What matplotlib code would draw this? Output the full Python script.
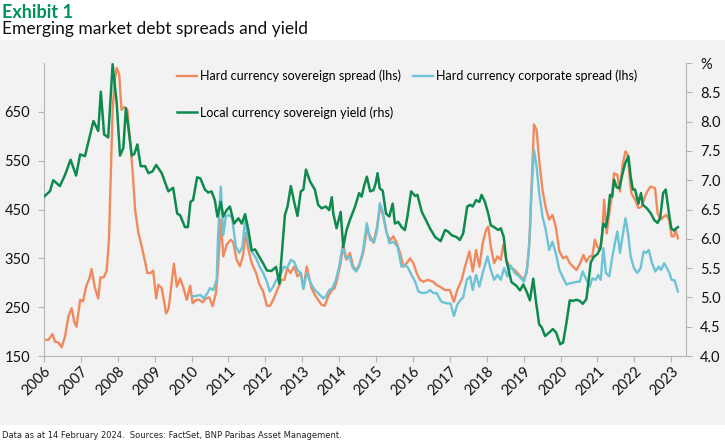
import numpy as np
import matplotlib
matplotlib.use('Agg')
import matplotlib.pyplot as plt
from matplotlib.patches import Rectangle

plt.rcParams['font.family'] = ['Lato', 'DejaVu Sans']

# hard currency sovereign spread (lhs), x in axis years
sov_t = [2006.00, 2006.12, 2006.23, 2006.30, 2006.38, 2006.48, 2006.57, 2006.66, 2006.75, 2006.82,
         2006.88, 2006.98, 2007.06, 2007.14, 2007.23, 2007.29, 2007.38, 2007.47, 2007.53, 2007.62,
         2007.70, 2007.76, 2007.81, 2007.86, 2007.92, 2007.97, 2008.04, 2008.10, 2008.18, 2008.26,
         2008.33, 2008.40, 2008.47, 2008.56, 2008.65, 2008.74, 2008.80, 2008.89, 2008.96, 2009.04,
         2009.10, 2009.19, 2009.31, 2009.38, 2009.52, 2009.60, 2009.69, 2009.78, 2009.87, 2009.96,
         2010.03, 2010.12, 2010.21, 2010.30, 2010.39, 2010.48, 2010.57, 2010.66, 2010.72, 2010.79,
         2010.86, 2010.95, 2011.06, 2011.13, 2011.22, 2011.31, 2011.39, 2011.47, 2011.53, 2011.63,
         2011.75, 2011.83, 2011.94, 2012.04, 2012.13, 2012.23, 2012.32, 2012.44, 2012.52, 2012.59,
         2012.68, 2012.78, 2012.87, 2012.96, 2013.03, 2013.12, 2013.25, 2013.34, 2013.43, 2013.52,
         2013.61, 2013.70, 2013.80, 2013.88, 2013.94, 2014.04, 2014.11, 2014.20, 2014.29, 2014.38,
         2014.47, 2014.56, 2014.65, 2014.75, 2014.84, 2014.93, 2015.02, 2015.11, 2015.20, 2015.29,
         2015.38, 2015.47, 2015.56, 2015.65, 2015.74, 2015.83, 2015.92, 2016.01, 2016.10, 2016.19,
         2016.28, 2016.41, 2016.55, 2016.64, 2016.73, 2016.87, 2017.00, 2017.11, 2017.20, 2017.32,
         2017.41, 2017.53, 2017.62, 2017.71, 2017.80, 2017.89, 2017.98, 2018.04, 2018.11, 2018.20,
         2018.29, 2018.38, 2018.45, 2018.53, 2018.62, 2018.76, 2018.88, 2018.99, 2019.08, 2019.15,
         2019.21, 2019.28, 2019.35, 2019.42, 2019.51, 2019.60, 2019.69, 2019.78, 2019.87, 2019.97,
         2020.07, 2020.16, 2020.25, 2020.34, 2020.43, 2020.53, 2020.62, 2020.70, 2020.79, 2020.86,
         2020.93, 2021.00, 2021.07, 2021.12, 2021.18, 2021.25, 2021.32, 2021.39, 2021.45, 2021.54,
         2021.61, 2021.68, 2021.76, 2021.82, 2021.88, 2021.92, 2022.02, 2022.11, 2022.20, 2022.29,
         2022.35, 2022.44, 2022.56, 2022.63, 2022.71, 2022.79, 2022.87, 2022.94, 2023.01, 2023.07,
         2023.12, 2023.18]
sov = [183, 183, 195, 179, 178, 168, 190, 231, 248, 220,
       210, 265, 262, 292, 309, 328, 289, 268, 311, 311,
       325, 388, 518, 654, 716, 740, 726, 654, 660, 654,
       593, 531, 449, 401, 374, 343, 320, 320, 325, 268,
       296, 289, 237, 248, 339, 292, 309, 289, 265, 294,
       258, 265, 265, 260, 268, 270, 252, 279, 333, 429,
       354, 378, 388, 383, 347, 334, 354, 402, 371, 340,
       320, 298, 282, 253, 253, 268, 285, 306, 306, 330,
       320, 333, 313, 320, 288, 333, 289, 275, 265, 255,
       253, 272, 285, 289, 306, 340, 378, 347, 361, 333,
       326, 340, 361, 408, 395, 382, 412, 456, 435, 401,
       387, 395, 381, 361, 333, 340, 350, 340, 320, 306,
       302, 306, 302, 295, 292, 285, 285, 261, 285, 306,
       333, 364, 323, 367, 333, 381, 408, 415, 374, 340,
       354, 347, 378, 347, 333, 326, 316, 306, 320, 374,
       490, 624, 613, 552, 490, 453, 429, 439, 415, 364,
       350, 354, 340, 333, 326, 340, 357, 343, 354, 354,
       388, 374, 367, 388, 470, 401, 443, 477, 524, 521,
       487, 542, 569, 562, 511, 483, 470, 453, 456, 477,
       487, 497, 494, 443, 429, 435, 439, 429, 395, 395,
       408, 391]

# hard currency corporate spread (lhs)
corp_t = [2010.02, 2010.13, 2010.24, 2010.33, 2010.43, 2010.50, 2010.59, 2010.68, 2010.72, 2010.79,
          2010.86, 2010.93, 2011.01, 2011.10, 2011.20, 2011.29, 2011.38, 2011.46, 2011.53, 2011.63,
          2011.75, 2011.84, 2011.94, 2012.04, 2012.12, 2012.21, 2012.30, 2012.39, 2012.50, 2012.59,
          2012.69, 2012.78, 2012.87, 2012.96, 2013.03, 2013.12, 2013.25, 2013.34, 2013.48, 2013.57,
          2013.64, 2013.73, 2013.82, 2013.91, 2014.00, 2014.09, 2014.18, 2014.28, 2014.37, 2014.46,
          2014.54, 2014.65, 2014.75, 2014.84, 2014.95, 2015.03, 2015.10, 2015.17, 2015.27, 2015.36,
          2015.47, 2015.58, 2015.69, 2015.78, 2015.87, 2015.96, 2016.06, 2016.15, 2016.24, 2016.37,
          2016.46, 2016.55, 2016.64, 2016.77, 2016.91, 2017.02, 2017.11, 2017.20, 2017.29, 2017.36,
          2017.46, 2017.55, 2017.62, 2017.71, 2017.80, 2017.89, 2018.02, 2018.11, 2018.20, 2018.29,
          2018.38, 2018.47, 2018.56, 2018.65, 2018.76, 2018.88, 2019.01, 2019.10, 2019.17, 2019.21,
          2019.28, 2019.35, 2019.42, 2019.51, 2019.60, 2019.69, 2019.78, 2019.87, 2019.97, 2020.07,
          2020.16, 2020.25, 2020.34, 2020.43, 2020.52, 2020.60, 2020.70, 2020.79, 2020.86, 2020.95,
          2021.02, 2021.09, 2021.16, 2021.23, 2021.32, 2021.39, 2021.48, 2021.54, 2021.61, 2021.68,
          2021.76, 2021.83, 2021.90, 2021.99, 2022.08, 2022.17, 2022.25, 2022.32, 2022.39, 2022.48,
          2022.57, 2022.66, 2022.72, 2022.81, 2022.88, 2022.95, 2023.01, 2023.09, 2023.14, 2023.18]
corp = [272, 273, 275, 268, 279, 289, 285, 306, 401, 497,
        398, 436, 439, 432, 374, 361, 374, 436, 384, 364,
        350, 333, 320, 302, 282, 292, 306, 313, 333, 330,
        347, 343, 326, 320, 287, 320, 296, 285, 275, 268,
        272, 285, 289, 306, 333, 374, 350, 354, 330, 323,
        333, 367, 422, 388, 384, 408, 463, 449, 408, 381,
        384, 374, 333, 337, 330, 316, 302, 282, 279, 280,
        285, 279, 279, 261, 258, 257, 232, 255, 265, 270,
        306, 313, 285, 316, 292, 320, 354, 326, 306, 316,
        306, 330, 313, 335, 320, 313, 302, 333, 401, 484,
        572, 538, 484, 436, 408, 367, 384, 361, 326, 310,
        296, 299, 300, 302, 302, 323, 306, 292, 309, 306,
        316, 306, 371, 320, 313, 347, 384, 405, 361, 395,
        432, 401, 354, 330, 320, 330, 364, 361, 367, 340,
        323, 333, 326, 340, 330, 320, 306, 305, 292, 282]

# local currency sovereign yield (rhs), %
loc_t = [2006.00, 2006.16, 2006.25, 2006.43, 2006.57, 2006.72, 2006.87, 2006.98, 2007.11, 2007.34,
         2007.47, 2007.54, 2007.63, 2007.74, 2007.86, 2007.97, 2008.06, 2008.15, 2008.22, 2008.38,
         2008.45, 2008.53, 2008.62, 2008.74, 2008.83, 2008.94, 2009.04, 2009.19, 2009.37, 2009.50,
         2009.61, 2009.69, 2009.82, 2009.90, 2009.97, 2010.04, 2010.15, 2010.24, 2010.36, 2010.45,
         2010.54, 2010.63, 2010.70, 2010.79, 2010.86, 2010.95, 2011.04, 2011.15, 2011.27, 2011.36,
         2011.45, 2011.54, 2011.63, 2011.72, 2011.81, 2011.94, 2012.04, 2012.16, 2012.29, 2012.38,
         2012.53, 2012.60, 2012.69, 2012.78, 2012.87, 2012.96, 2013.03, 2013.10, 2013.21, 2013.34,
         2013.43, 2013.52, 2013.64, 2013.73, 2013.80, 2013.84, 2013.93, 2014.04, 2014.11, 2014.20,
         2014.29, 2014.43, 2014.54, 2014.61, 2014.67, 2014.75, 2014.84, 2014.93, 2014.99, 2015.04,
         2015.10, 2015.18, 2015.27, 2015.36, 2015.45, 2015.51, 2015.60, 2015.69, 2015.78, 2015.85,
         2015.95, 2016.06, 2016.12, 2016.24, 2016.35, 2016.46, 2016.60, 2016.75, 2016.87, 2016.96,
         2017.05, 2017.18, 2017.27, 2017.36, 2017.47, 2017.55, 2017.62, 2017.71, 2017.80, 2017.86,
         2017.95, 2018.04, 2018.11, 2018.20, 2018.31, 2018.38, 2018.46, 2018.53, 2018.67, 2018.80,
         2018.90, 2018.99, 2019.08, 2019.17, 2019.26, 2019.33, 2019.42, 2019.49, 2019.58, 2019.69,
         2019.79, 2019.88, 2019.99, 2020.07, 2020.16, 2020.25, 2020.34, 2020.43, 2020.52, 2020.60,
         2020.70, 2020.82, 2020.90, 2021.00, 2021.08, 2021.16, 2021.23, 2021.29, 2021.34, 2021.40,
         2021.45, 2021.52, 2021.59, 2021.66, 2021.75, 2021.84, 2021.90, 2021.96, 2022.02, 2022.11,
         2022.18, 2022.23, 2022.34, 2022.45, 2022.54, 2022.63, 2022.70, 2022.78, 2022.85, 2022.94,
         2023.00, 2023.07, 2023.14, 2023.18]
loc = [6.72, 6.81, 7.00, 6.90, 7.09, 7.35, 7.08, 7.44, 7.41, 8.01,
       7.84, 8.51, 7.78, 7.73, 8.98, 8.32, 7.42, 7.55, 8.23, 7.42,
       7.45, 7.61, 7.24, 7.24, 7.12, 7.15, 7.26, 7.12, 6.81, 6.87,
       6.43, 6.40, 6.20, 6.20, 6.63, 6.66, 7.05, 7.03, 6.84, 6.79,
       6.81, 6.66, 6.38, 6.63, 6.38, 6.49, 6.55, 6.26, 6.35, 6.26,
       6.42, 6.15, 5.80, 5.82, 5.72, 5.58, 5.46, 5.45, 5.52, 5.23,
       6.41, 6.55, 6.90, 6.63, 6.39, 6.81, 6.84, 7.18, 6.98, 6.84,
       6.58, 6.52, 6.55, 6.49, 6.71, 6.43, 6.18, 6.46, 5.86, 6.15,
       6.32, 6.55, 6.78, 6.72, 6.89, 7.06, 6.81, 6.83, 6.95, 7.12,
       6.86, 6.82, 6.43, 6.38, 6.60, 6.26, 6.29, 6.20, 6.15, 6.38,
       6.81, 6.73, 6.75, 6.46, 6.32, 6.18, 6.03, 5.96, 6.15, 6.12,
       6.06, 6.03, 5.98, 6.09, 6.55, 6.58, 6.55, 6.66, 6.63, 6.75,
       6.63, 6.43, 6.23, 6.20, 6.15, 6.18, 6.03, 5.63, 5.26, 5.20,
       5.12, 5.22, 5.10, 4.95, 5.32, 4.95, 4.54, 4.49, 4.34, 4.40,
       4.46, 4.40, 4.20, 4.23, 4.57, 4.95, 4.94, 4.96, 4.94, 4.89,
       4.97, 5.60, 5.69, 5.74, 5.84, 6.26, 6.20, 6.43, 6.75, 6.72,
       7.01, 6.88, 6.86, 7.06, 7.29, 7.41, 7.06, 6.84, 6.84, 6.60,
       6.78, 6.58, 6.52, 6.43, 6.32, 6.27, 6.36, 6.78, 6.84, 6.43,
       6.18, 6.14, 6.18, 6.20]

years = list(range(2006, 2024))
left_ticks = [150, 250, 350, 450, 550, 650]
right_ticks = [4.0, 4.5, 5.0, 5.5, 6.0, 6.5, 7.0, 7.5, 8.0, 8.5, 9.0]

c_sov = '#f08a5d'
c_corp = '#6cc3d5'
c_loc = '#0f8a4f'
c_spine = '#b5b5b5'

fig = plt.figure(figsize=(7.25, 4.42), dpi=100)
fig.patches.append(Rectangle((0, 1 - 425/442), 1, 385/442, transform=fig.transFigure,
                             facecolor='#f2f2f2', edgecolor='none', zorder=-10))

fig.text(0.003, 1 - 12/442, 'Exhibit 1', color='#00915a', fontsize=13, fontweight='bold', va='center')
fig.text(0.003, 1 - 29/442, 'Emerging market debt spreads and yield', color='#111111', fontsize=12.5, va='center')
fig.text(0.003, 1 - 435/442, 'Data as at 14 February 2024.  Sources: FactSet, BNP Paribas Asset Management.',
         fontsize=6, color='#222222', va='center', family=['Liberation Sans Narrow', 'DejaVu Sans'])

ax = fig.add_axes([44/725, 1 - 356/442, 642/725, 293/442])
ax.set_facecolor('none')
l1, = ax.plot(sov_t, sov, color=c_sov, lw=1.7, label='Hard currency sovereign spread (lhs)')
l2, = ax.plot(corp_t, corp, color=c_corp, lw=1.7, label='Hard currency corporate spread (lhs)')
ax.set_xlim(2006, 2023.4)
ax.set_ylim(150, 750)
ax.set_yticks(left_ticks)
ax.set_xticks(years)
ax.set_xticklabels([str(y) for y in years], rotation=45, ha='right', rotation_mode='anchor')

ax2 = ax.twinx()
l3, = ax2.plot(loc_t, loc, color=c_loc, lw=1.8, label='Local currency sovereign yield (rhs)')
ax2.set_ylim(4.0, 9.0)
ax2.set_yticks(right_ticks)
ax2.set_yticklabels(['%.1f' % v for v in right_ticks[:-1]] + ['%'])

for a in (ax, ax2):
    a.spines['top'].set_visible(False)
    for s in ('left', 'right', 'bottom'):
        a.spines[s].set_color(c_spine)
    a.tick_params(colors=c_spine, labelcolor='#111111', labelsize=10.5, length=4)
ax.spines['right'].set_visible(False)
ax2.spines['left'].set_visible(False)
ax2.spines['bottom'].set_visible(False)
ax.tick_params(axis='x', pad=2)
ax.tick_params(axis='y', pad=6)
ax2.tick_params(axis='y', pad=6)

ax2.legend([l1, l3, l2], [l1.get_label(), l3.get_label(), l2.get_label()],
           loc='upper left', bbox_to_anchor=(0.19, 1.015), ncol=2, frameon=False,
           fontsize=9, handlelength=1.6, handletextpad=0.2, columnspacing=1.0,
           labelspacing=1.9)

fig.savefig('out.png', dpi=100, facecolor='white')
